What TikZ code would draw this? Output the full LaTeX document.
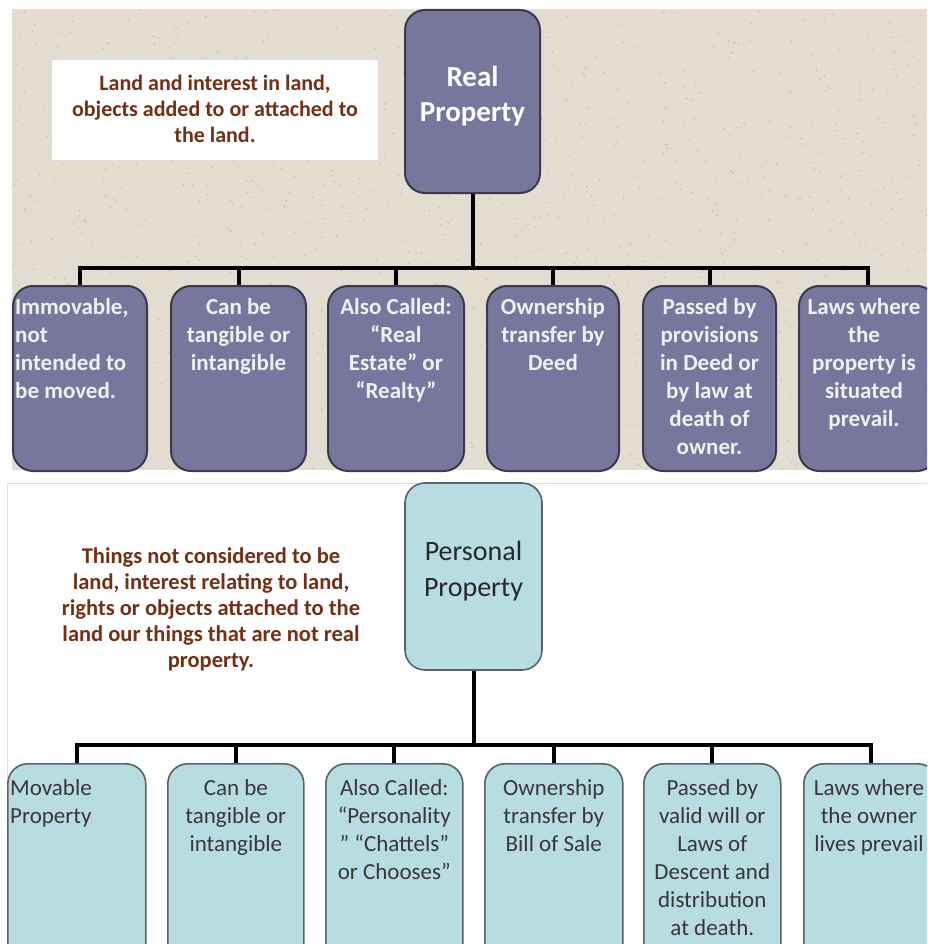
\documentclass[tikz,border=0pt]{standalone}
\usepackage{fontspec}
\setmainfont{Carlito}
\definecolor{paper}{RGB}{227,220,208}
\definecolor{speckle}{RGB}{175,162,142}
\definecolor{realfill}{RGB}{119,119,158}
\definecolor{realedge}{RGB}{58,58,74}
\definecolor{perfill}{RGB}{183,221,226}
\definecolor{peredge}{RGB}{88,98,102}
\definecolor{notebrown}{RGB}{115,48,20}
\definecolor{pertext}{RGB}{55,55,55}
\tikzset{
  realbox/.style={draw=realedge, fill=realfill, line width=2pt, rounded corners=20pt, inner sep=0pt},
  perbox/.style={draw=peredge, fill=perfill, line width=1.6pt, rounded corners=20pt, inner sep=0pt},
  realtext/.style={text=white!94!black, font=\bfseries\fontsize{23}{28}\selectfont, inner sep=0pt, anchor=north, align=center},
  pertext/.style={text=pertext, font=\fontsize{23}{28}\selectfont, inner sep=0pt, anchor=north, align=center},
  roottitle/.style={inner sep=0pt, anchor=north, align=center},
  link/.style={line width=4pt, black},
  note/.style={text=notebrown, font=\bfseries, inner sep=0pt, align=center}
}
\begin{document}
\begin{tikzpicture}[x=1pt, y=-1pt]
\clip (0,0) rectangle (927,944);
\fill[white] (0,0) rectangle (927,944);

% textured paper panel behind the real property chart
\fill[paper] (12,9) rectangle (927,470);
\pgfmathsetseed{42}
\foreach \i in {1,...,1100} {
  \pgfmathsetmacro\px{12+915*rnd}
  \pgfmathsetmacro\py{9+461*rnd}
  \fill[speckle, opacity=0.6] (\px,\py) circle (0.8pt);
}

% plain panel behind the personal property chart
\draw[gray!25, line width=1pt] (7,944) -- (7,483) -- (927,483);

% ---------------- Real property ----------------
\fill[white] (52,60) rectangle (378,160);
\node[note, font=\bfseries\fontsize{22}{26}\selectfont] (realnote) at (215,109)
  {Land and interest in land,\\objects added to or attached to\\the land.};

\node[realbox, minimum width=135pt, minimum height=183pt] (rroot) at (472.5,101.5) {};
\node[roottitle, text=white, font=\bfseries\fontsize{29}{35}\selectfont] (rrootT) at (472.5,66) {Real\\Property};

\node[realbox, minimum width=134pt, minimum height=185pt, anchor=north west] (r1) at (12,285) {};
\node[realbox, minimum width=135pt, minimum height=185pt, anchor=north west] (r2) at (170,285) {};
\node[realbox, minimum width=136pt, minimum height=185pt, anchor=north west] (r3) at (327,285) {};
\node[realbox, minimum width=132pt, minimum height=185pt, anchor=north west] (r4) at (486,285) {};
\node[realbox, minimum width=133pt, minimum height=185pt, anchor=north west] (r5) at (642,285) {};
\node[realbox, minimum width=138pt, minimum height=185pt, anchor=north west] (r6) at (798,285) {};

\node[realtext, anchor=north west, align=left] (r1t) at (15,298) {Immovable,\\not\\intended to\\be moved.};
\node[realtext] (r2t) at (r2.north |- 0,298) {Can be\\tangible or\\intangible};
\node[realtext] (r3t) at (r3.north |- 0,298) {Also Called:\\“Real\\Estate” or\\“Realty”};
\node[realtext] (r4t) at (r4.north |- 0,298) {Ownership\\transfer by\\Deed};
\node[realtext] (r5t) at (r5.north |- 0,298) {Passed by\\provisions\\in Deed or\\by law at\\death of\\owner.};
\node[realtext] (r6t) at (864,298) {Laws where\\the\\property is\\situated\\prevail.};

\coordinate (rbusL) at (r1.north |- 0,268);
\coordinate (rbusR) at (r6.north |- 0,268);
\draw[link, line cap=rect] (rbusL) -- (rbusR);
\draw[link] (rroot.south) -- (rroot.south |- rbusL);
\foreach \c in {r1,r2,r3,r4,r5,r6}
  \draw[link] (\c.north) -- (\c.north |- rbusL);

% ---------------- Personal property ----------------
\node[note, font=\bfseries\fontsize{22.5}{26}\selectfont] (pernote) at (211,609)
  {Things not considered to be\\land, interest relating to land,\\rights or objects attached to the\\land our things that are not real\\property.};

\node[perbox, minimum width=137pt, minimum height=187pt] (proot) at (473.5,576.5) {};
\node[roottitle, text=pertext!70!black, font=\fontsize{28}{36}\selectfont] (prootT) at (473.5,541) {Personal\\Property};

\node[perbox, minimum width=138pt, minimum height=200pt, anchor=north west] (p1) at (7,763) {};
\node[perbox, minimum width=136pt, minimum height=200pt, anchor=north west] (p2) at (167,763) {};
\node[perbox, minimum width=137pt, minimum height=200pt, anchor=north west] (p3) at (325,763) {};
\node[perbox, minimum width=138pt, minimum height=200pt, anchor=north west] (p4) at (484,763) {};
\node[perbox, minimum width=137pt, minimum height=200pt, anchor=north west] (p5) at (643,763) {};
\node[perbox, minimum width=134pt, minimum height=200pt, anchor=north west] (p6) at (803,763) {};

\node[pertext, anchor=north west, align=left] (p1t) at (10,779) {Movable\\Property};
\node[pertext] (p2t) at (p2.north |- 0,779) {Can be\\tangible or\\intangible};
\node[pertext] (p3t) at (p3.north |- 0,779) {Also Called:\\“Personality\\” “Chattels”\\or Chooses”};
\node[pertext] (p4t) at (p4.north |- 0,779) {Ownership\\transfer by\\Bill of Sale};
\node[pertext] (p5t) at (p5.north |- 0,779) {Passed by\\valid will or\\Laws of\\Descent and\\distribution\\at death.};
\node[pertext] (p6t) at (869,779) {Laws where\\the owner\\lives prevail};

\coordinate (pbusL) at (p1.north |- 0,745);
\coordinate (pbusR) at (p6.north |- 0,745);
\draw[link, line cap=rect] (pbusL) -- (pbusR);
\draw[link] (proot.south) -- (proot.south |- pbusL);
\foreach \c in {p1,p2,p3,p4,p5,p6}
  \draw[link] (\c.north) -- (\c.north |- pbusL);
\end{tikzpicture}
\end{document}
